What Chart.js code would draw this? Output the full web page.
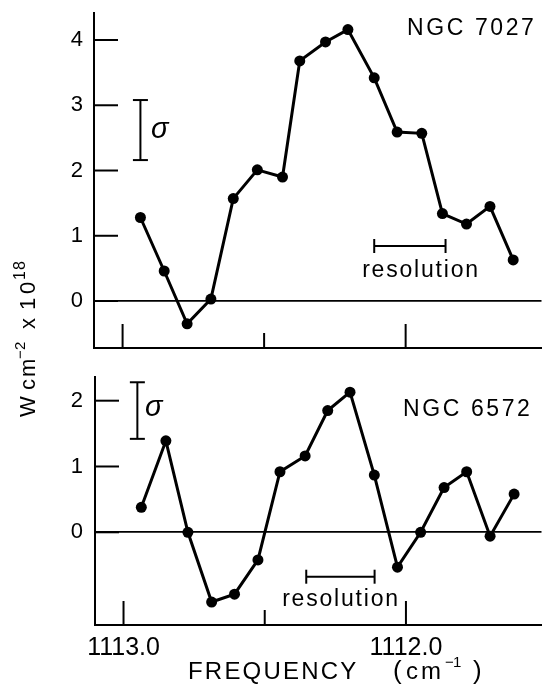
<!DOCTYPE html>
<html><head><meta charset="utf-8">
<script src="https://cdn.jsdelivr.net/npm/chart.js@4.4.1/dist/chart.umd.min.js"></script>
<style>
html,body{margin:0;padding:0;background:#fff;width:547px;height:688px;overflow:hidden}
canvas{position:absolute;left:0;top:0}
</style></head><body>
<canvas id="top" width="547" height="688"></canvas>
<canvas id="bottom" width="547" height="688"></canvas>
<script>
const FONT = '"Liberation Sans", Arial, Helvetica, sans-serif';

// NGC 7027 (upper panel): frequency (cm^-1) and flux (W cm^-2 x 10^18)
const freq7027 = [1112.937, 1112.853, 1112.772, 1112.688, 1112.609, 1112.524, 1112.435, 1112.374, 1112.283, 1112.204, 1112.111, 1112.030, 1111.943, 1111.870, 1111.785, 1111.702, 1111.620];
const flux7027 = [1.28, 0.46, -0.35, 0.03, 1.57, 2.01, 1.90, 3.68, 3.97, 4.16, 3.42, 2.59, 2.57, 1.34, 1.18, 1.45, 0.63];

// NGC 6572 (lower panel)
const freq6572 = [1112.937, 1112.850, 1112.772, 1112.688, 1112.607, 1112.524, 1112.446, 1112.357, 1112.277, 1112.198, 1112.112, 1112.030, 1111.948, 1111.865, 1111.785, 1111.702, 1111.617];
const flux6572 = [0.38, 1.39, 0.00, -1.06, -0.94, -0.42, 0.92, 1.16, 1.85, 2.13, 0.87, -0.53, 0.00, 0.68, 0.92, -0.06, 0.58];

// Axes
const xTickValues = [1113.0, 1112.5, 1112.0];
const xTickLabels = ['1113.0', '', '1112.0'];
const yTicks7027 = [0, 1, 2, 3, 4];
const yTicks6572 = [0, 1, 2];
const xRange = [1111.520, 1113.101];
const yRange7027 = [-0.72, 4.414];
const yRange6572 = [-1.409, 2.36];

// Annotation marks in data units
const sigma7027 = {x: 1112.937, lo: 2.16, hi: 3.08};
const sigma6572 = {x: 1112.951, lo: 1.42, hi: 2.28};
const resolution7027 = {from: 1112.111, to: 1111.859, y: 0.843};
const resolution6572 = {from: 1112.353, to: 1112.111, y: -0.675};

function line(ctx, x1, y1, x2, y2) { ctx.beginPath(); ctx.moveTo(x1, y1); ctx.lineTo(x2, y2); ctx.stroke(); }

// draws text pieces; a piece with "at" starts at that offset, otherwise follows the previous piece
function drawRich(ctx, segs, x, y, align) {
  const widths = segs.map(s => {
    ctx.font = `${s.style || ''} ${s.size}px ${FONT}`;
    ctx.letterSpacing = (s.ls || 0) + 'px';
    return ctx.measureText(s.t).width;
  });
  const total = widths.reduce((a, b) => a + b, 0);
  let cx = align === 'center' ? x - total / 2 : x;
  ctx.textAlign = 'left';
  ctx.textBaseline = 'alphabetic';
  segs.forEach((s, i) => {
    if (s.at !== undefined) cx = x + s.at;
    ctx.font = `${s.style || ''} ${s.size}px ${FONT}`;
    ctx.letterSpacing = (s.ls || 0) + 'px';
    ctx.fillText(s.t, cx, y - (s.rise || 0));
    cx += widths[i];
  });
  ctx.letterSpacing = '0px';
}

const decorations = {
  id: 'decorations',
  afterDraw(chart, args, o) {
    const ctx = chart.ctx, xs = chart.scales.x, ys = chart.scales.y, ca = chart.chartArea;
    ctx.save();
    ctx.strokeStyle = '#000'; ctx.fillStyle = '#000'; ctx.lineWidth = 2; ctx.lineCap = 'butt';
    // inward tick marks
    ys.ticks.forEach(t => { const py = ys.getPixelForValue(t.value); line(ctx, ca.left, py, ca.left + 24, py); });
    xs.ticks.forEach(t => {
      const i = xTickValues.indexOf(t.value);
      const len = xTickLabels[i] ? 24 : 15;
      const px = xs.getPixelForValue(t.value);
      line(ctx, px, ca.bottom, px, ca.bottom - len);
    });
    // sigma error bar
    const s = o.sigma;
    const sx = xs.getPixelForValue(s.x), sy1 = ys.getPixelForValue(s.lo), sy2 = ys.getPixelForValue(s.hi);
    line(ctx, sx, sy1, sx, sy2);
    line(ctx, sx - 7.5, sy1, sx + 7.5, sy1);
    line(ctx, sx - 7.5, sy2, sx + 7.5, sy2);
    drawRich(ctx, [{t: 'σ', size: 29, style: 'italic'}], o.sigmaText[0], o.sigmaText[1], 'left');
    // resolution bar
    const r = o.res;
    const rx1 = xs.getPixelForValue(r.from), rx2 = xs.getPixelForValue(r.to), ry = ys.getPixelForValue(r.y);
    line(ctx, rx1, ry, rx2, ry);
    line(ctx, rx1, ry - 7, rx1, ry + 7);
    line(ctx, rx2, ry - 7, rx2, ry + 7);
    drawRich(ctx, [{t: 'resolution', size: 23, ls: 1.8}], o.resText[0], o.resText[1], 'center');
    // object name
    drawRich(ctx, [{t: o.name, size: 23, ls: 2.6}], o.nameAt[0], o.nameAt[1], 'left');
    // shared axis titles
    if (o.titles) {
      drawRich(ctx, [
        {t: 'FREQUENCY', size: 24, ls: 2.2, at: 0},
        {t: '(', size: 26, at: 205},
        {t: 'c', size: 24, at: 218},
        {t: 'm', size: 24, at: 233},
        {t: '−', size: 15, rise: 12, at: 257},
        {t: '1', size: 15, rise: 12, at: 265},
        {t: ')', size: 26, at: 285}
      ], 188, 679, 'left');
      ctx.save();
      ctx.translate(35, 417);
      ctx.rotate(-Math.PI / 2);
      drawRich(ctx, [
        {t: 'W', size: 22, at: 0},
        {t: 'c', size: 22, at: 27},
        {t: 'm', size: 22, at: 40},
        {t: '−', size: 15, rise: 10, at: 58},
        {t: '2', size: 15, rise: 10, at: 67},
        {t: 'x', size: 22, at: 88},
        {t: '1', size: 22, at: 107},
        {t: '0', size: 22, at: 123},
        {t: '1', size: 16, rise: 10, at: 137},
        {t: '8', size: 16, rise: 10, at: 147}
      ], 0, 0, 'left');
      ctx.restore();
    }
    ctx.restore();
  }
};

function panel(id, freq, flux, yRange, yTicks, showXLabels, pad, xAxisHeight, yAxisWidth, yLabelPad, deco) {
  return new Chart(document.getElementById(id), {
    type: 'line',
    data: {datasets: [{
      data: freq.map((f, i) => ({x: f, y: flux[i]})),
      borderColor: '#000', backgroundColor: '#000', borderWidth: 3,
      pointRadius: 5.5, pointHoverRadius: 5.5, pointBorderWidth: 0, tension: 0, clip: false
    }]},
    options: {
      responsive: false, devicePixelRatio: 1, animation: false, events: [],
      layout: {padding: pad},
      plugins: {legend: {display: false}, tooltip: {enabled: false}, decorations: deco},
      scales: {
        x: {
          type: 'linear', reverse: true, min: xRange[0], max: xRange[1],
          afterBuildTicks: s => { s.ticks = xTickValues.map(v => ({value: v})); },
          afterFit: s => { s.height = xAxisHeight; s.paddingLeft = 0; s.paddingRight = 0; s.paddingTop = 0; s.paddingBottom = 0; },
          grid: {display: false},
          border: {display: true, color: '#000', width: 2},
          ticks: {display: showXLabels, autoSkip: false, maxRotation: 0, minRotation: 0, padding: 3, color: '#000',
                  font: {family: FONT, size: 25, lineHeight: 1},
                  callback: v => { const i = xTickValues.indexOf(v); return i >= 0 ? xTickLabels[i] : ''; }}
        },
        y: {
          type: 'linear', min: yRange[0], max: yRange[1],
          afterBuildTicks: s => { s.ticks = yTicks.map(v => ({value: v})); },
          afterFit: s => { s.width = yAxisWidth; s.paddingTop = 0; s.paddingBottom = 0; s.paddingLeft = 0; s.paddingRight = 0; },
          grid: {display: true, drawTicks: false, lineWidth: 1.7,
                 color: c => (c.tick && c.tick.value === 0) ? '#000' : 'rgba(0,0,0,0)'},
          border: {display: true, color: '#000', width: 2},
          ticks: {padding: yLabelPad, color: '#000', font: {family: FONT, size: 22}}
        }
      }
    },
    plugins: [decorations]
  });
}

panel('top', freq7027, flux7027, yRange7027, yTicks7027, false,
  {top: 13, left: 0, right: 0, bottom: 340}, 0, 94, 11,
  {name: 'NGC 7027', nameAt: [407, 35], sigma: sigma7027, sigmaText: [151, 138],
   res: resolution7027, resText: [421, 277], titles: false});

panel('bottom', freq6572, flux6572, yRange6572, yTicks6572, true,
  {top: 377, left: 0, right: 0, bottom: 3}, 60, 95, 12,
  {name: 'NGC 6572', nameAt: [403, 416], sigma: sigma6572, sigmaText: [145, 416],
   res: resolution6572, resText: [341, 606], titles: true});
</script>
</body></html>
